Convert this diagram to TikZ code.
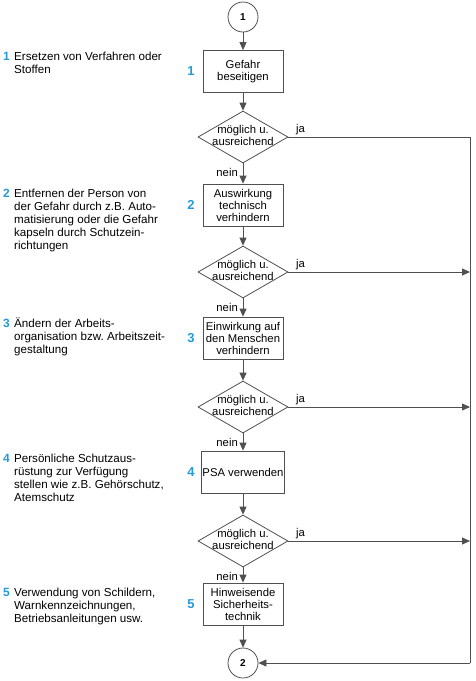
\documentclass[tikz,border=0pt]{standalone}
\usepackage{fontspec}
\setmainfont{Liberation Sans}
\usetikzlibrary{shapes.geometric,arrows.meta}
\definecolor{numblue}{RGB}{35,155,215}
\definecolor{linegray}{RGB}{80,80,80}
\frenchspacing
\begin{document}
\begin{tikzpicture}[x=1pt,y=-1pt,
 conn/.style={draw=linegray, line width=0.8pt},
 arr/.style={conn,-{Triangle[length=8pt,width=7pt]}},
 stepbox/.style={draw=linegray,line width=0.8pt,minimum width=80pt,minimum height=42pt,inner sep=1pt,align=center,font=\fontsize{11.3}{12}\selectfont},
 decision/.style={diamond,draw=linegray,line width=0.8pt,minimum width=90pt,minimum height=52pt,inner sep=0pt},
 dtext/.style={align=center,inner sep=0pt,font=\fontsize{11.3}{12}\selectfont},
 term/.style={circle,draw=linegray,line width=0.8pt,minimum size=30pt,inner sep=0pt,font=\bfseries\fontsize{10}{12}\selectfont},
 bnum/.style={text=numblue,font=\bfseries\fontsize{13}{13}\selectfont,inner sep=0pt},
 lnum/.style={text=numblue,font=\bfseries\fontsize{12}{13}\selectfont,inner sep=0pt,anchor=base west},
 ltext/.style={align=left,anchor=base west,inner sep=0pt,font=\fontsize{11.6}{13}\selectfont},
 lab/.style={font=\fontsize{11.3}{12}\selectfont,inner sep=0pt}
]
\useasboundingbox (0,0) rectangle (475,681);
% terminals
\node[term] (c1) at (243,17) {1};
\node[term] (c2) at (243,663) {2};
% boxes
\node[stepbox] (b1) at (243,71.5) {Gefahr\\beseitigen};
\node[stepbox] (b2) at (243,205) {Auswirkung\\technisch\\verhindern};
\node[stepbox] (b3) at (243,338) {Einwirkung auf\\den Menschen\\verhindern};
\node[stepbox] (b4) at (243,472) {PSA verwenden};
\node[stepbox] (b5) at (243,604) {Hinweisende\\Sicherheits-\\technik};
% decisions
\foreach \n/\y in {1/137,2/272,3/407,4/541}{
  \node[decision] (d\n) at (243,\y) {};
  \node[dtext] (d\n t) at (243,\y-1.5) {möglich u.\\ausreichend};
  \node[lab,anchor=base west] (j\n) at (296,\y-5) {ja};
  \node[lab,anchor=base east] (n\n) at (238,\y+39) {nein};
}
% box numbers
\node[bnum] (bn1) at (191,71.5) {1};
\node[bnum] (bn2) at (191,205) {2};
\node[bnum] (bn3) at (191,338) {3};
\node[bnum] (bn4) at (191,472) {4};
\node[bnum] (bn5) at (191,604) {5};
% left texts (anchored at baseline of last line; first baseline + 13*(n-1))
\node[lnum] (ln1) at (3,60) {1};
\node[ltext] (lt1) at (14,73) {Ersetzen von Verfahren oder\\Stoffen};
\node[lnum] (ln2) at (3,197) {2};
\node[ltext] (lt2) at (14,249) {Entfernen der Person von\\der Gefahr durch z.B. Auto-\\matisierung oder die Gefahr\\kapseln durch Schutzein-\\richtungen};
\node[lnum] (ln3) at (3,327) {3};
\node[ltext] (lt3) at (14,353) {Ändern der Arbeits-\\organisation bzw. Arbeitszeit-\\gestaltung};
\node[lnum] (ln4) at (3,462) {4};
\node[ltext] (lt4) at (14,501) {Persönliche Schutzaus-\\rüstung zur Verfügung\\stellen wie z.B. Gehörschutz,\\Atemschutz};
\node[lnum] (ln5) at (3,596) {5};
\node[ltext] (lt5) at (14,622) {Verwendung von Schildern,\\Warnkennzeichnungen,\\Betriebsanleitungen usw.};
% vertical flow
\draw[arr] (c1) -- (b1);
\draw[arr] (b1) -- (d1);
\draw[arr] (d1) -- (b2);
\draw[arr] (b2) -- (d2);
\draw[arr] (d2) -- (b3);
\draw[arr] (b3) -- (d3);
\draw[arr] (d3) -- (b4);
\draw[arr] (b4) -- (d4);
\draw[arr] (d4) -- (b5);
\draw[arr] (b5) -- (c2);
% right return line
\coordinate (r1) at (470,137);
\coordinate (r5) at (470,663);
\draw[conn] (d1.east) -- (r1) -- (r5);
\draw[arr] (r5) -- (c2);
\draw[arr] (d2.east) -- (d2.east -| r1);
\draw[arr] (d3.east) -- (d3.east -| r1);
\draw[arr] (d4.east) -- (d4.east -| r1);
\end{tikzpicture}
\end{document}
